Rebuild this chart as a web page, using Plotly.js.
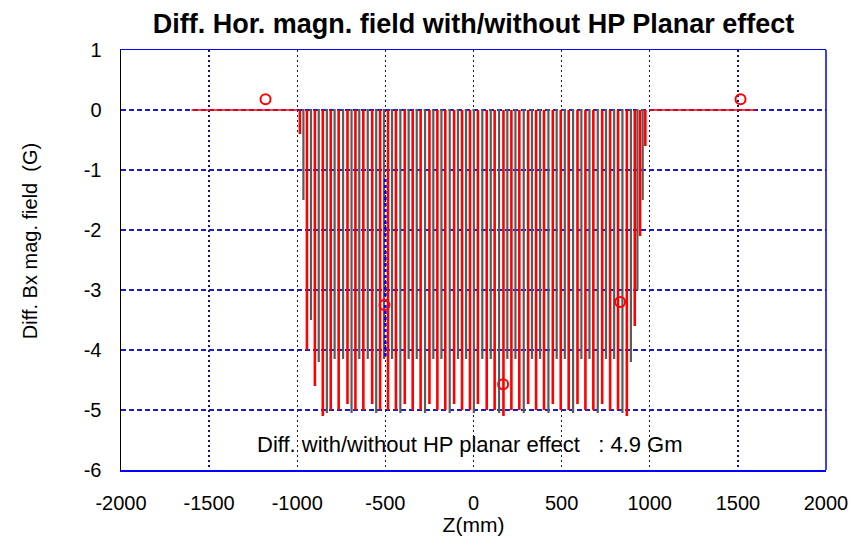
<!DOCTYPE html>
<html>
<head>
<meta charset="utf-8">
<script src="https://cdn.plot.ly/plotly-3.0.1.min.js"></script>
<style>html,body{margin:0;padding:0;background:#fff;}#chart{width:855px;height:549px;}</style>
</head>
<body>
<div id="chart"></div>
<script>
// Flat (no-field) parts of the red curve, Z (mm) and diff (G)
var flatLeftZ = [-1600, -1000];
var flatLeftY = [0, 0];
var flatRightZ = [1000, 1600];
var flatRightY = [0, 0];

// Red curve: positions of the downward swings (mm) and their minimum (G)
var redZ = [-985,-945,-900,-855,-810,-765,-715,-670,-625,-575,-530,-485,-440,-390,-345,-300,-250,-205,-160,-110,-65,-20,25,75,120,170,215,260,310,355,400,450,495,540,590,635,680,730,775,820,870,915,945,975];
var redMin = [-0.4,-4.0,-4.6,-5.1,-5.0,-5.0,-4.9,-5.0,-5.0,-4.9,-5.0,-5.0,-5.0,-4.9,-5.0,-5.0,-4.9,-5.0,-5.0,-4.9,-5.0,-5.0,-4.9,-5.0,-5.0,-5.1,-5.0,-5.0,-4.9,-5.0,-5.0,-4.9,-5.0,-5.0,-4.9,-5.0,-5.0,-4.9,-5.0,-5.0,-5.1,-3.6,-2.1,-0.6];

// Grey curve: positions of the downward swings (mm) and their minimum (G)
var greyZ = [-965,-922,-878,-832,-788,-740,-692,-648,-600,-552,-508,-462,-415,-368,-322,-275,-228,-182,-135,-88,-42,2,50,98,145,192,238,285,332,378,425,472,518,565,612,658,705,752,798,845,893,930,960];
var greyMin = [-1.5,-3.5,-4.2,-5.05,-4.15,-4.15,-5.05,-4.15,-4.15,-5.05,-4.15,-4.15,-5.05,-4.15,-4.15,-5.05,-4.15,-4.15,-5.05,-4.15,-4.15,-5.05,-4.15,-4.15,-5.05,-4.15,-4.15,-5.05,-4.15,-4.15,-5.05,-4.15,-4.15,-5.05,-4.15,-4.15,-5.05,-4.15,-4.15,-5.05,-4.2,-3.0,-1.5];

// Curve markers (open circles)
var markZ = [-1180, -505, 168, 832, 1515];
var markY = [0.18, -3.25, -4.57, -3.2, 0.18];

// Blue segment at Z = -500
var blueZ = [-500, -500];
var blueY = [-1.15, -4.15];

// Axis ticks
var xTicks = [-2000, -1500, -1000, -500, 0, 500, 1000, 1500, 2000];
var yTicks = [1, 0, -1, -2, -3, -4, -5, -6];

var titleText = 'Diff. Hor. magn. field with/without HP Planar effect';
var xTitle = 'Z(mm)';
var yTitle = 'Diff. Bx mag. field  (G)';
var noteText = 'Diff. with/without HP planar effect   : 4.9 Gm';
var noteZ = -20, noteY = -5.58;

function swings(zs, mins, cap) {
  var x = [], y = [];
  for (var i = 0; i < zs.length; i++) {
    if (cap) { x.push(zs[i] - cap); y.push(0); }
    x.push(zs[i], zs[i], null);
    y.push(0, mins[i], null);
  }
  return {x: x, y: y};
}
var rs = swings(redZ, redMin, 0);
var gs = swings(greyZ, greyMin, 8);

var FONT = 'Liberation Sans, Arial, sans-serif';

var traces = [
  {x: gs.x, y: gs.y, type: 'scatter', mode: 'lines', line: {color: '#5a5a5a', width: 2.2}, connectgaps: false, hoverinfo: 'skip'},
  {x: rs.x, y: rs.y, type: 'scatter', mode: 'lines', line: {color: '#ff0000', width: 2.6}, connectgaps: false, hoverinfo: 'skip'},
  {x: flatLeftZ, y: flatLeftY, type: 'scatter', mode: 'lines', line: {color: '#ff0000', width: 1.5}, hoverinfo: 'skip'},
  {x: flatRightZ, y: flatRightY, type: 'scatter', mode: 'lines', line: {color: '#ff0000', width: 1.5}, hoverinfo: 'skip'},
  {x: blueZ, y: blueY, type: 'scatter', mode: 'lines', line: {color: '#0000ff', width: 2.5, dash: 'dot'}, hoverinfo: 'skip'},
  {x: markZ, y: markY, type: 'scatter', mode: 'markers', marker: {symbol: 'circle-open', size: 10, color: '#ff0000', line: {width: 2, color: '#ff0000'}}, hoverinfo: 'skip'}
];

var layout = {
  width: 855, height: 549,
  margin: {l: 121, r: 29, t: 50, b: 79},
  paper_bgcolor: '#ffffff', plot_bgcolor: '#ffffff',
  showlegend: false,
  font: {family: FONT, color: '#000000'},
  title: {text: titleText, font: {family: FONT, size: 27, weight: 'bold', color: '#000'}, x: 0.5, xref: 'paper', xanchor: 'center', y: 0.958, yanchor: 'middle'},
  xaxis: {
    range: [-2000, 2000], tickvals: xTicks, ticktext: xTicks.map(String),
    showgrid: true, gridcolor: '#14146e', griddash: '2px,3px', gridwidth: 1.3,
    zeroline: false, showline: true, linecolor: '#0000ff', linewidth: 1.5, mirror: true,
    ticks: '', ticklabelstandoff: 14,
    tickfont: {family: FONT, size: 20, color: '#000'},
    title: {text: xTitle, font: {family: FONT, size: 21, color: '#000'}, standoff: 2}
  },
  yaxis: {
    range: [-6, 1], tickvals: yTicks, ticktext: yTicks.map(String),
    showgrid: true, gridcolor: '#1c1cc0', griddash: '5px,3px', gridwidth: 1.3,
    zeroline: false, showline: true, linecolor: '#000000', linewidth: 1.5, mirror: false,
    ticks: '', ticklabelstandoff: 14,
    tickfont: {family: FONT, size: 20, color: '#000'}
  },
  shapes: [
    {type: 'line', xref: 'paper', yref: 'paper', x0: 1, x1: 1, y0: 0, y1: 1, line: {color: '#0000ff', width: 1.5}}
  ],
  annotations: [
    {x: noteZ, y: noteY, xref: 'x', yref: 'y', text: noteText, showarrow: false, font: {family: FONT, size: 22, color: '#000'}, xanchor: 'center', yanchor: 'middle'},
    {x: -0.129, y: 0.545, xref: 'paper', yref: 'paper', text: yTitle, textangle: -90, showarrow: false, font: {family: FONT, size: 20, color: '#000'}, xanchor: 'center', yanchor: 'middle'}
  ]
};

Plotly.newPlot('chart', traces, layout, {staticPlot: true, displayModeBar: false});
</script>
</body>
</html>
